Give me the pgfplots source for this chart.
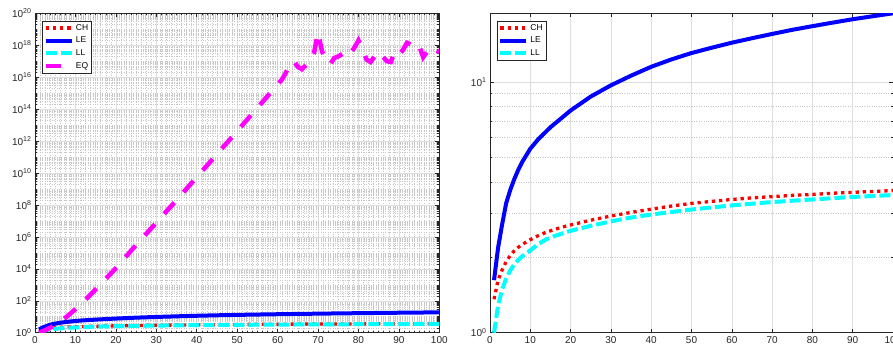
\documentclass[border=0pt]{standalone}
\usepackage{fontspec}
\setmainfont{Liberation Sans}
\usepackage{pgfplots}
\pgfplotsset{compat=1.18}
\usepackage{pgfplotstable}

\definecolor{axgray}{gray}{0.15}
\definecolor{gridmaj}{gray}{0.87}
\definecolor{gridmin}{gray}{0.78}
\definecolor{mred}{rgb}{1,0,0}
\definecolor{mblue}{rgb}{0,0,1}
\definecolor{mcyan}{rgb}{0,1,1}
\definecolor{mmag}{rgb}{1,0,1}

\pgfplotstableread{
n v
1 1.36
2 1.62
3 1.78
4 1.92
5 2.03
6 2.12
7 2.19
8 2.25
9 2.30
10 2.35
12 2.44
14 2.52
16 2.58
18 2.64
20 2.69
25 2.81
30 2.92
35 3.02
40 3.11
45 3.20
50 3.28
55 3.34
60 3.40
65 3.45
70 3.49
75 3.53
80 3.56
85 3.60
90 3.63
95 3.66
100 3.69
}\tabCH

\pgfplotstableread{
n v
1 1.62
2 2.18
3 2.70
4 3.28
5 3.70
6 4.09
7 4.46
8 4.80
10 5.42
12 5.92
15 6.60
20 7.70
25 8.75
30 9.70
35 10.6
40 11.5
45 12.3
50 13.05
55 13.7
60 14.35
65 14.95
70 15.55
75 16.15
80 16.7
85 17.25
90 17.8
95 18.3
100 18.8
}\tabLE

\pgfplotstableread{
n v
1 1.00
2 1.28
3 1.49
4 1.64
5 1.77
6 1.87
7 1.95
8 2.02
9 2.07
10 2.13
12 2.26
14 2.36
16 2.43
18 2.49
20 2.55
25 2.67
30 2.78
35 2.88
40 2.96
45 3.03
50 3.10
55 3.16
60 3.22
65 3.27
70 3.32
75 3.36
80 3.40
85 3.44
90 3.48
95 3.51
100 3.54
}\tabLL

\pgfplotstableread{
n v
1 1
2 1.25
3 1.63
4 2.21
5 3.11
6 4.55
7 6.93
8 10.9
9 17.9
10 29.9
12 89.3
14 283
16 935
18 3170
20 1.1e4
25 3.1e5
30 7.7e6
35 2.0e8
40 5.5e9
45 1.5e11
50 4.2e12
55 1.2e14
58 9.0e14
60 3.45e15
61 6.8e15
62 1.78e16
63 6.31e16
64 1.0e17
65 4.47e16
66 3.16e16
67 5.62e16
68 1.0e17
69 3.16e17
70 6.31e18
71 3.98e17
72 1.41e17
73 6.31e16
74 1.58e17
75 2.0e17
76 2.82e17
77 5.01e17
78 3.16e17
79 7.08e17
80 2.0e18
81 5.62e17
82 1.26e17
83 8.91e16
84 2.0e17
85 3.98e17
86 2.0e17
87 1.0e17
88 8.91e16
89 3.98e17
90 2.51e17
91 5.01e17
92 1.41e18
93 1.12e18
94 1.58e18
95 1.0e18
96 1.78e17
97 3.98e17
98 7.94e17
99 5.62e17
100 3.55e17
}\tabEQ

\pgfplotsset{
  every axis/.append style={
    scale only axis, anchor=south west,
    xmin=0, xmax=100, xtick={0,10,...,100},
    tick align=inside,
    axis line style={axgray, line width=0.6pt},
    major tick length=4pt, minor tick length=2.2pt,
    tick style={axgray, line width=0.5pt},
    tick label style={font=\fontsize{10}{11}\selectfont, text=axgray},
    grid=both,
    major grid style={gridmaj, line width=0.5pt},
    minor grid style={gridmin, dotted, line width=0.5pt},
    legend cell align=left,
    legend style={at={(0.0166,0.977)}, anchor=north west, draw=axgray,
      line width=0.5pt, font=\fontsize{8.5}{9.5}\selectfont,
      inner sep=1.5pt, row sep=1.2pt, fill=white},
  },
  /pgf/number format/assume math mode=true,
  legend image code/.code={\draw[#1] (0pt,0pt) -- (26pt,0pt);},
  CHs/.style={mred, line width=3.3pt, dash pattern=on 3.3pt off 3.9pt},
  LEs/.style={mblue, line width=4pt},
  LLs/.style={mcyan, line width=4pt, dash pattern=on 11pt off 4pt},
  EQs/.style={mmag, line width=4.5pt, dash pattern=on 15pt off 14pt},
}

\begin{document}
\begin{tikzpicture}
\useasboundingbox (0,0) rectangle (893pt,348pt);
\begin{axis}[
  ymode=log,
  at={(35pt,15.3pt)}, width=404.3pt, height=319.4pt,
  ymin=1, ymax=1e20,
  ytick={1,1e2,1e4,1e6,1e8,1e10,1e12,1e14,1e16,1e18,1e20},
  yticklabels={10\textsuperscript{0},10\textsuperscript{2},10\textsuperscript{4},10\textsuperscript{6},10\textsuperscript{8},10\textsuperscript{10},10\textsuperscript{12},10\textsuperscript{14},10\textsuperscript{16},10\textsuperscript{18},10\textsuperscript{20}},
  minor ytick={2,3,4,5,6,7,8,9,10,20,30,40,50,60,70,80,90,
   2e2,3e2,4e2,5e2,6e2,7e2,8e2,9e2,1e3,2e3,3e3,4e3,5e3,6e3,7e3,8e3,9e3,
   2e4,3e4,4e4,5e4,6e4,7e4,8e4,9e4,1e5,2e5,3e5,4e5,5e5,6e5,7e5,8e5,9e5,
   2e6,3e6,4e6,5e6,6e6,7e6,8e6,9e6,1e7,2e7,3e7,4e7,5e7,6e7,7e7,8e7,9e7,
   2e8,3e8,4e8,5e8,6e8,7e8,8e8,9e8,1e9,2e9,3e9,4e9,5e9,6e9,7e9,8e9,9e9,
   2e10,3e10,4e10,5e10,6e10,7e10,8e10,9e10,1e11,2e11,3e11,4e11,5e11,6e11,7e11,8e11,9e11,
   2e12,3e12,4e12,5e12,6e12,7e12,8e12,9e12,1e13,2e13,3e13,4e13,5e13,6e13,7e13,8e13,9e13,
   2e14,3e14,4e14,5e14,6e14,7e14,8e14,9e14,1e15,2e15,3e15,4e15,5e15,6e15,7e15,8e15,9e15,
   2e16,3e16,4e16,5e16,6e16,7e16,8e16,9e16,1e17,2e17,3e17,4e17,5e17,6e17,7e17,8e17,9e17,
   2e18,3e18,4e18,5e18,6e18,7e18,8e18,9e18,1e19,2e19,3e19,4e19,5e19,6e19,7e19,8e19,9e19},
  minor x tick num=7,
]
\addplot[CHs] table[x=n,y=v] {\tabCH};
\addlegendentry{CH}
\addplot[LEs] table[x=n,y=v] {\tabLE};
\addlegendentry{LE}
\addplot[LLs] table[x=n,y=v] {\tabLL};
\addlegendentry{LL}
\addplot[EQs] table[x=n,y=v] {\tabEQ};
\addlegendentry{EQ}
\end{axis}
\begin{axis}[
  ymode=log,
  at={(490pt,15.3pt)}, width=403pt, height=319.4pt,
  ymin=1, ymax=18.8,
  ytick={1,10},
  yticklabels={10\textsuperscript{0},10\textsuperscript{1}},
  minor ytick={2,3,4,5,6,7,8,9},
]
\addplot[CHs] table[x=n,y=v] {\tabCH};
\addlegendentry{CH}
\addplot[LEs] table[x=n,y=v] {\tabLE};
\addlegendentry{LE}
\addplot[LLs] table[x=n,y=v] {\tabLL};
\addlegendentry{LL}
\end{axis}
\end{tikzpicture}
\end{document}
